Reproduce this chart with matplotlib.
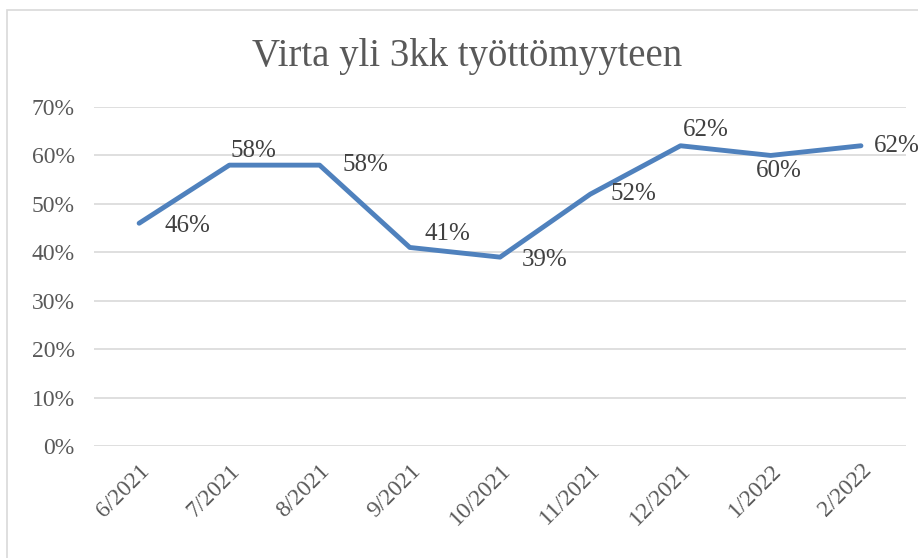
import matplotlib.pyplot as plt
from matplotlib.patches import Rectangle

months = ["6/2021", "7/2021", "8/2021", "9/2021", "10/2021",
          "11/2021", "12/2021", "1/2022", "2/2022"]
values = [0.46, 0.58, 0.58, 0.41, 0.39, 0.52, 0.62, 0.60, 0.62]
labels = ["46%", "58%", "58%", "41%", "39%", "52%", "62%", "60%", "62%"]

# label offsets in points (dx, dy) relative to each point
offsets = [(35, -2), (17, 10), (33, 0), (27, 10), (32, -2),
           (31, 0), (18, 11), (6, -11), (26, 0)]

plt.rcParams['font.family'] = ['Liberation Serif', 'DejaVu Serif']

fig = plt.figure(figsize=(9.18, 5.58), dpi=100)
fig.patches.append(Rectangle((0.008, -0.1), 1.2, 1.082, transform=fig.transFigure,
                             fill=False, edgecolor='#d9d9d9', linewidth=1.2))

ax = fig.add_axes([0.1024, 0.2007, 0.8846, 0.6075])
x = list(range(len(months)))
ax.plot(x, values, color='#4f81bd', linewidth=3.5, solid_joinstyle='round',
        solid_capstyle='round', clip_on=False)

for xi, v, lab, (dx, dy) in zip(x, values, labels, offsets):
    ax.annotate(lab, (xi, v), xytext=(dx, dy), textcoords='offset points',
                ha='center', va='center', fontsize=18, color='#404040',
                annotation_clip=False)

ax.set_xlim(-0.5, len(months) - 0.5)
ax.set_ylim(0, 0.7)
ax.set_yticks([i / 10 for i in range(8)])
ax.set_yticklabels([f"{i * 10}%" for i in range(8)])
ax.set_xticks(x)
ax.set_xticklabels(months, rotation=45, ha='right', va='top',
                   rotation_mode='anchor')
ax.tick_params(axis='both', length=0, labelcolor='#595959')
ax.tick_params(axis='x', pad=10, labelsize=17)
ax.tick_params(axis='y', pad=14, labelsize=17)
ax.grid(axis='y', color='#d9d9d9', linewidth=1.2)
ax.set_axisbelow(True)
for s in ax.spines.values():
    s.set_visible(False)

fig.text(0.509, 0.898, "Virta yli 3kk työttömyyteen", ha='center', va='center',
         fontsize=28, color='#595959')

fig.savefig("out.png", dpi=100)
